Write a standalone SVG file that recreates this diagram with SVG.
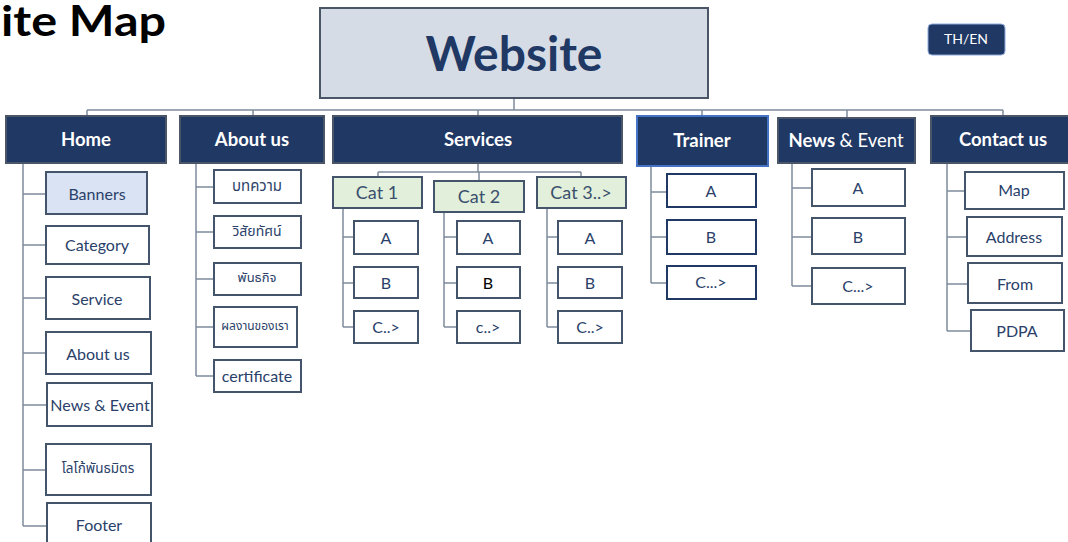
<svg xmlns="http://www.w3.org/2000/svg" width="1068" height="542" viewBox="0 0 1068 542">
<style>
text{font-family:Lato,"Open Sans","Noto Sans",sans-serif;text-anchor:middle;dominant-baseline:central}
.top{fill:#1f3864;stroke:#4a5568;stroke-width:2}
.topt{fill:#fff;font-weight:bold;font-size:18.5px}
.ch{fill:#fff;stroke:#44546a;stroke-width:2}
.cht{fill:#2a3f6a;font-size:16px}
.th{fill:#2a3f6a;font-size:12.5px;font-family:"Noto Sans Thai","Loma","Garuda","Noto Sans",sans-serif}
.cat{fill:#e2efda;stroke:#44546a;stroke-width:2}
.catt{fill:#3a4f6e;font-size:18px}
.nv{fill:#fff;stroke:#1f3864;stroke-width:2}
.ln{fill:none;stroke:#7f8c9d;stroke-width:1.5}
</style>
<text x="1" y="36" textLength="165" lengthAdjust="spacingAndGlyphs" style="text-anchor:start;dominant-baseline:alphabetic;font-size:42px;font-weight:bold;fill:#000">ite Map</text>

<g id="connectors" class="ln">
<path d="M514 98V110M87 110H1003M87 110V116M253 110V116M478 110V116M702 110V116M847 110V118M1003 110V116"/>
<path d="M23 163V526M23 194H46M23 245H46M23 298H46M23 353H46M23 405H47M23 470H46M23 526H47"/>
<path d="M196 163V376M196 187H214M196 232H214M196 279H214M196 327H214M196 376H214"/>
<path d="M478 163V172M378 172H581M378 172V177M479 172V181M581 172V177"/>
<path d="M343 208V327M343 237H354M343 283H354M343 327H354"/>
<path d="M444 212V327M444 237H457M444 283H457M444 327H457"/>
<path d="M547 208V327M547 237H558M547 283H558M547 327H558"/>
<path d="M651 166V283M651 192H667M651 237H667M651 283H667"/>
<path d="M792 163V286M792 188H812M792 237H812M792 286H812"/>
<path d="M947 163V331M947 191H965M947 237H967M947 284H968M947 331H971"/>
</g>

<g id="website"><rect x="320" y="8" width="388" height="90" fill="#d6dce5" stroke="#4a5568" stroke-width="2"/><text x="514" y="52" style="font-size:48px;font-weight:bold;fill:#1f3864">Website</text></g>
<g id="then"><rect x="928" y="24" width="77" height="31" rx="4" fill="#1f3864" stroke="#8faadc" stroke-width="1"/><text x="966" y="38" style="font-size:14px;fill:#fff">TH/EN</text></g>

<g id="home"><rect class="top" x="6" y="116" width="160" height="47"/><text class="topt" x="86" y="139">Home</text></g>
<g id="about"><rect class="top" x="180" y="116" width="144" height="47"/><text class="topt" x="252" y="139">About us</text></g>
<g id="services"><rect class="top" x="333" y="116" width="289" height="47"/><text class="topt" x="478" y="139">Services</text></g>
<g id="trainer"><rect x="637" y="116" width="131" height="50" fill="#1f3864" stroke="#4472c4" stroke-width="2"/><text class="topt" x="702" y="140">Trainer</text></g>
<g id="news"><rect class="top" x="778" y="118" width="137" height="45"/><text class="topt" x="846" y="140">News <tspan style="font-weight:normal">&amp; Event</tspan></text></g>
<g id="contact"><rect class="top" x="931" y="116" width="145" height="47"/><text class="topt" x="1003" y="139">Contact us</text></g>

<g id="h-banners"><rect x="46" y="172" width="101" height="42" fill="#dae3f3" stroke="#44546a" stroke-width="2"/><text class="cht" x="97" y="193">Banners</text></g>
<g id="h-category"><rect class="ch" x="46" y="226" width="103" height="38"/><text class="cht" x="97" y="244">Category</text></g>
<g id="h-service"><rect class="ch" x="46" y="277" width="104" height="42"/><text class="cht" x="97" y="298">Service</text></g>
<g id="h-about"><rect class="ch" x="46" y="332" width="105" height="42"/><text class="cht" x="98" y="353">About us</text></g>
<g id="h-news"><rect class="ch" x="47" y="383" width="105" height="43"/><text class="cht" x="100" y="404">News &amp; Event</text></g>
<g id="h-logo"><rect class="ch" x="46" y="444" width="105" height="51"/><text class="th" x="98" y="469" style="font-size:13.5px">โลโก้พันธมิตร</text></g>
<g id="h-footer"><rect class="ch" x="47" y="503" width="104" height="45"/><text class="cht" x="99" y="524">Footer</text></g>

<g id="a-1"><rect class="ch" x="214" y="170" width="87" height="33"/><text class="th" x="257" y="186" style="font-size:15px">บทความ</text></g>
<g id="a-2"><rect class="ch" x="214" y="216" width="87" height="32"/><text class="th" x="257" y="231" style="font-size:14px">วิสัยทัศน์</text></g>
<g id="a-3"><rect class="ch" x="214" y="263" width="87" height="32"/><text class="th" x="257" y="278" style="font-size:13px">พันธกิจ</text></g>
<g id="a-4"><rect class="ch" x="214" y="307" width="83" height="40"/><text class="th" x="255" y="326" style="font-size:12px">ผลงานของเรา</text></g>
<g id="a-5"><rect class="ch" x="214" y="360" width="87" height="32"/><text class="cht" x="257" y="375">certificate</text></g>

<g id="cat1"><rect class="cat" x="333" y="177" width="89" height="31"/><text class="catt" x="377" y="192">Cat 1</text></g>
<g id="cat2"><rect class="cat" x="434" y="181" width="90" height="31"/><text class="catt" x="479" y="196">Cat 2</text></g>
<g id="cat3"><rect class="cat" x="537" y="177" width="89" height="31"/><text class="catt" x="581" y="192">Cat 3..&gt;</text></g>

<g id="c1-a"><rect class="ch" x="354" y="221" width="64" height="33"/><text class="cht" x="386" y="237">A</text></g>
<g id="c1-b"><rect class="ch" x="354" y="267" width="64" height="31"/><text class="cht" x="386" y="282">B</text></g>
<g id="c1-c"><rect class="ch" x="354" y="311" width="64" height="32"/><text class="cht" x="386" y="326">C..&gt;</text></g>
<g id="c2-a"><rect class="ch" x="457" y="221" width="63" height="33"/><text class="cht" x="488" y="237">A</text></g>
<g id="c2-b"><rect class="ch" x="457" y="267" width="63" height="31"/><text class="cht" x="488" y="282" style="fill:#000">B</text></g>
<g id="c2-c"><rect class="ch" x="457" y="311" width="63" height="32"/><text class="cht" x="488" y="326">c..&gt;</text></g>
<g id="c3-a"><rect class="ch" x="558" y="221" width="64" height="33"/><text class="cht" x="590" y="237">A</text></g>
<g id="c3-b"><rect class="ch" x="558" y="267" width="64" height="31"/><text class="cht" x="590" y="282">B</text></g>
<g id="c3-c"><rect class="ch" x="558" y="311" width="64" height="32"/><text class="cht" x="590" y="326">C..&gt;</text></g>

<g id="t-a"><rect class="nv" x="667" y="174" width="89" height="33"/><text class="cht" x="711" y="190">A</text></g>
<g id="t-b"><rect class="nv" x="667" y="220" width="89" height="34"/><text class="cht" x="711" y="236">B</text></g>
<g id="t-c"><rect class="nv" x="667" y="266" width="89" height="33"/><text class="cht" x="711" y="281">C...&gt;</text></g>

<g id="n-a"><rect class="ch" x="812" y="169" width="93" height="37"/><text class="cht" x="858" y="187">A</text></g>
<g id="n-b"><rect class="ch" x="812" y="218" width="93" height="36"/><text class="cht" x="858" y="236">B</text></g>
<g id="n-c"><rect class="ch" x="812" y="268" width="93" height="36"/><text class="cht" x="858" y="285">C...&gt;</text></g>

<g id="k-map"><rect class="ch" x="965" y="172" width="99" height="37"/><text class="cht" x="1014" y="189">Map</text></g>
<g id="k-address"><rect class="ch" x="967" y="217" width="95" height="39"/><text class="cht" x="1014" y="236">Address</text></g>
<g id="k-from"><rect class="ch" x="968" y="263" width="94" height="40"/><text class="cht" x="1015" y="283">From</text></g>
<g id="k-pdpa"><rect class="ch" x="971" y="310" width="93" height="41"/><text class="cht" x="1017" y="330">PDPA</text></g>
</svg>
